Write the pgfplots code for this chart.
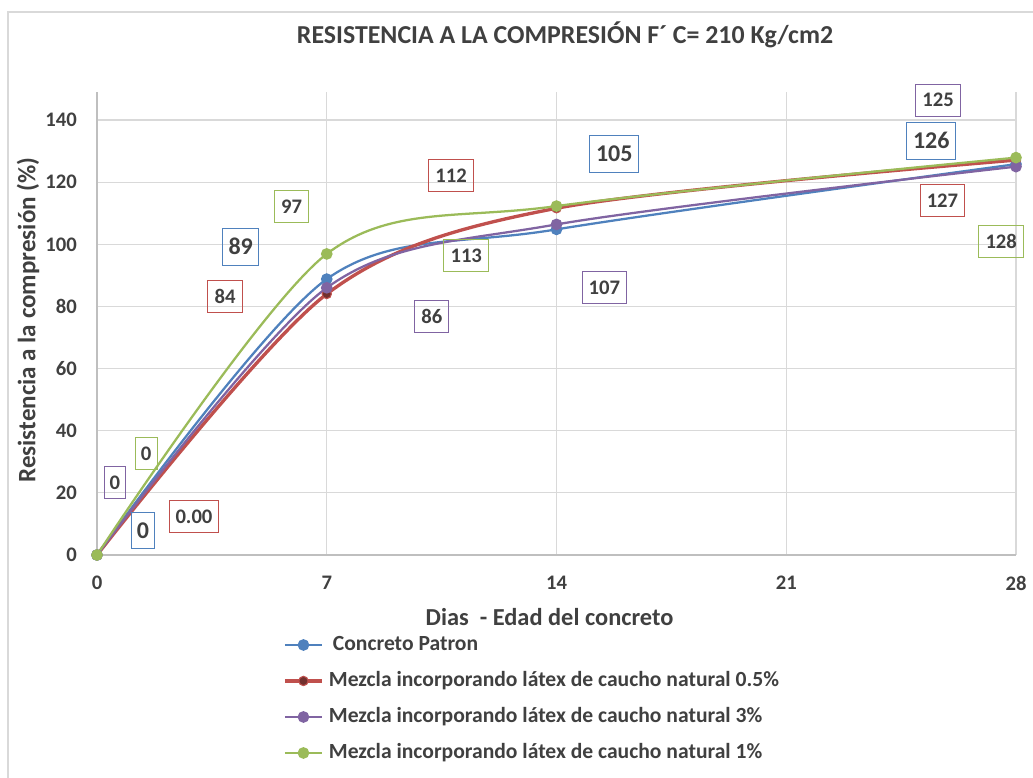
\documentclass[border=0pt]{standalone}
\usepackage{fontspec}
\setmainfont{Carlito}
\usepackage{pgfplots}
\pgfplotsset{compat=1.18}
\definecolor{cblue}{HTML}{4F81BD}
\definecolor{cred}{HTML}{C0504D}
\definecolor{cpurple}{HTML}{8064A2}
\definecolor{cgreen}{HTML}{9BBB59}
\definecolor{txt}{HTML}{404040}
\definecolor{gridc}{HTML}{D9D9D9}
\definecolor{axc}{HTML}{BFBFBF}
\tikzset{
  lab/.style={draw=#1, line width=0.75pt, text=txt, font=\fontsize{15.5}{18}\selectfont\bfseries, inner xsep=5pt, inner ysep=0pt, minimum height=24pt},
  blab/.style={draw=#1, line width=0.75pt, text=txt, font=\fontsize{18}{21}\selectfont\bfseries, inner xsep=4.6pt, inner ysep=0pt, minimum height=27.5pt}
}
\begin{document}
\begin{tikzpicture}
\begin{axis}[
  at={(0,0)}, anchor=south west,
  scale only axis, width=689.25pt, height=347.2pt,
  xmin=0, xmax=28, ymin=0, ymax=149,
  xtick={0,7,14,21,28}, ytick={0,20,...,140},
  grid=major, major grid style={gridc, line width=0.8pt},
  axis lines=left, axis line style={-, axc, line width=0.9pt},
  major tick length=0pt,
  clip=false,
  ticklabel style={font=\fontsize{15.5}{18}\selectfont\bfseries, text=txt},
  /pgf/number format/assume math mode=true,
  yticklabel style={inner sep=0pt, xshift=-15pt},
  xticklabel style={inner sep=0pt, yshift=-15.5pt},
  title={RESISTENCIA A LA COMPRESIÓN F´ C= 210 Kg/cm2},
  title style={at={(axis description cs:0.5093,1.106)}, anchor=center, font=\fontsize{19.4}{23}\selectfont\bfseries, text=txt},
  xlabel={Dias\ \ - Edad del concreto},
  xlabel style={at={(axis description cs:0.4924,-0.1339)}, anchor=center, font=\fontsize{18.3}{22}\selectfont\bfseries, text=txt},
  ylabel={Resistencia a la compresión (\%)},
  ylabel style={at={(axis description cs:-0.07508,0.5076)}, anchor=center, font=\fontsize{18.8}{22}\selectfont\bfseries, text=txt},
  legend cell align=left,
  legend image code/.code={\draw[#1, mark repeat=2, mark phase=2] plot coordinates {(0pt,0pt) (13.9pt,0pt) (27.75pt,0pt)};},
  legend style={at={(axis description cs:0.2024,-0.311)}, anchor=west, draw=none, fill=none, inner sep=0pt,
    font=\fontsize{16.2}{19}\selectfont\bfseries, text=txt,
    nodes={inner sep=0pt, text height=11.5pt, text depth=3.2pt},
    row sep=12.3pt, /tikz/every odd column/.append style={column sep=4pt}},
  every axis plot/.append style={mark=*, mark size=3.5pt, smooth},
]
\addplot[cblue, line width=1.7pt, mark options={fill=cblue, draw=cblue}] coordinates {(0,0) (7,88.8) (14,104.8) (28,125.8)};
\addlegendentry{\hspace{3pt}Concreto Patron}
\addplot[cred, line width=2.5pt, mark options={fill=cred!60!black, draw=cred, line width=0.8pt}] coordinates {(0,0) (7,84) (14,111.6) (28,127.1)};
\addlegendentry{Mezcla incorporando látex de caucho natural 0.5\%}
\addplot[cpurple, line width=1.7pt, mark options={fill=cpurple, draw=cpurple}] coordinates {(0,0) (7,86) (14,106.4) (28,125)};
\addlegendentry{Mezcla incorporando látex de caucho natural 3\%}
\addplot[cgreen, line width=1.7pt, mark options={fill=cgreen, draw=cgreen}] coordinates {(0,0) (7,96.9) (14,112.3) (28,127.9)};
\addlegendentry{Mezcla incorporando látex de caucho natural 1\%}

\node[lab=cgreen] at (axis cs:5.932,112.2) {97};
\node[blab=cblue] at (axis cs:4.378,99.2) {89};
\node[lab=cred] at (axis cs:3.900,83.1) {84};
\node[lab=cgreen, inner xsep=4.3pt] at (axis cs:1.499,32.7) {0};
\node[lab=cpurple, inner xsep=4.3pt] at (axis cs:0.548,23.2) {0};
\node[blab=cblue, inner xsep=4.4pt] at (axis cs:1.401,7.9) {0};
\node[lab=cred, inner xsep=4.6pt] at (axis cs:2.955,12.3) {0.00};
\node[lab=cred] at (axis cs:10.79,122.1) {112};
\node[blab=cblue] at (axis cs:15.76,129.1) {105};
\node[lab=cgreen] at (axis cs:11.25,96.3) {113};
\node[lab=cpurple] at (axis cs:15.46,86.0) {107};
\node[lab=cpurple] at (axis cs:10.20,76.8) {86};
\node[lab=cpurple] at (axis cs:25.63,146.4) {125};
\node[blab=cblue] at (axis cs:25.42,133.3) {126};
\node[lab=cred] at (axis cs:25.76,114.1) {127};
\node[lab=cgreen] at (axis cs:27.55,100.9) {128};
\end{axis}
\draw[gridc, line width=1pt] (-66.75pt,-180pt) -- (-66.75pt,407.25pt) -- (720pt,407.25pt);
\pgfresetboundingbox
\path[use as bounding box] (-72.75pt,-167.25pt) rectangle (702pt,416.25pt);
\end{tikzpicture}
\end{document}
